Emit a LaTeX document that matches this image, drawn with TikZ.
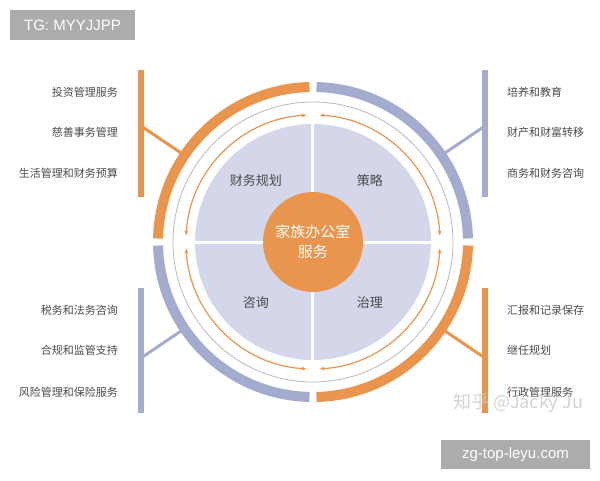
\documentclass[tikz,border=0pt]{standalone}
\usepackage{fontspec}
\setmainfont{Liberation Sans}
\newfontfamily\cjk{Noto Sans CJK SC}
\usepackage{tikz}
\usetikzlibrary{arrows.meta}
\definecolor{fo}{HTML}{E9954E}
\definecolor{fb}{HTML}{A3ABCF}
\definecolor{disk}{HTML}{D3D7E9}
\definecolor{txt}{HTML}{4A4A4A}

\begin{document}
\begin{tikzpicture}[x=1pt,y=1pt,
  ring/.style={line width=10pt},
  bar/.style={line width=6pt},
  link/.style={line width=3pt},
  flow/.style={fo, line width=1.2pt, {Stealth[length=5pt,width=4pt]}-{Stealth[length=5pt,width=4pt]}},
  item/.style={txt, font=\cjk\fontsize{11}{13}\selectfont, inner sep=0pt},
  part/.style={txt, font=\cjk\fontsize{13}{15}\selectfont},
  tag/.style={fill=gray!65, text=white, font=\fontsize{15}{18}\selectfont, inner sep=0pt}]
\useasboundingbox (-313,-238) rectangle (287,242);

% Disk and hub
\fill[disk] (0,0) circle (118);
\draw[white, line width=3pt] (0,118) -- (0,-118) (-118,0) -- (118,0);
\node[circle, fill=fo, minimum size=100pt, inner sep=0pt, text=white, align=center,
  font=\cjk\fontsize{15}{20}\selectfont] (hub) at (0,0) {家族办公室\\服务};
\node[part] (q1) at (-57,61) {财务规划};
\node[part] (q2) at (57,61) {策略};
\node[part] (q3) at (-57,-61) {咨询};
\node[part] (q4) at (57,-61) {治理};

% Thin circle and arrows
\draw[gray!55, line width=0.8pt] (0,0) circle (140);
\foreach \a in {0,90,180,270}
  \draw[flow] (\a+3:127) arc[start angle=\a+3, end angle=\a+87, radius=127];

% Bars and links
\coordinate (tl) at (146:158);
\coordinate (tr) at (34:158);
\coordinate (bl) at (214:158);
\coordinate (br) at (326:158);
\coordinate (tlb) at (-172,116);
\coordinate (trb) at (172,116);
\coordinate (blb) at (-172,-116);
\coordinate (brb) at (172,-116);
\draw[link, fo] (tlb) -- (tl);
\draw[link, fb] (trb) -- (tr);
\draw[link, fb] (blb) -- (bl);
\draw[link, fo] (brb) -- (br);
\draw[bar, fo] (-172,172) -- (-172,45);
\draw[bar, fb] (172,172) -- (172,45);
\draw[bar, fb] (-172,-46) -- (-172,-171);
\draw[bar, fo] (172,-46) -- (172,-171);

% Outer ring
\draw[ring, fo] (91.3:155) arc[start angle=91.3, end angle=178.7, radius=155];
\draw[ring, fb] (1.3:155) arc[start angle=1.3, end angle=88.7, radius=155];
\draw[ring, fb] (181.3:155) arc[start angle=181.3, end angle=268.7, radius=155];
\draw[ring, fo] (271.3:155) arc[start angle=271.3, end angle=358.7, radius=155];

% Items
\node[item, anchor=east] (a1) at (-195,150) {投资管理服务};
\node[item, anchor=east] (a2) at (-195,110) {慈善事务管理};
\node[item, anchor=east] (a3) at (-195,69) {生活管理和财务预算};
\node[item, anchor=west] (b1) at (194,150) {培养和教育};
\node[item, anchor=west] (b2) at (194,110) {财产和财富转移};
\node[item, anchor=west] (b3) at (194,69) {商务和财务咨询};
\node[item, anchor=east] (c1) at (-195,-68) {税务和法务咨询};
\node[item, anchor=east] (c2) at (-195,-108) {合规和监管支持};
\node[item, anchor=east] (c3) at (-195,-150) {风险管理和保险服务};
\node[item, anchor=west] (d1) at (194,-68) {汇报和记录保存};
\node[item, anchor=west] (d2) at (194,-108) {继任规划};
\node[item, anchor=west] (d3) at (194,-150) {行政管理服务};

% Marks
\node[text=gray!40, opacity=0.85, font=\cjk\fontsize{18}{20}\selectfont] (zh) at (205,-161) {知乎 @Jacky Ju};
\node[tag, minimum width=125pt, minimum height=30pt] (tg) at (-240.5,217) {TG: MYYJJPP};
\node[tag, minimum width=149pt, minimum height=29pt] (site) at (202.5,-212.5) {zg-top-leyu.com};
\end{tikzpicture}
\end{document}
